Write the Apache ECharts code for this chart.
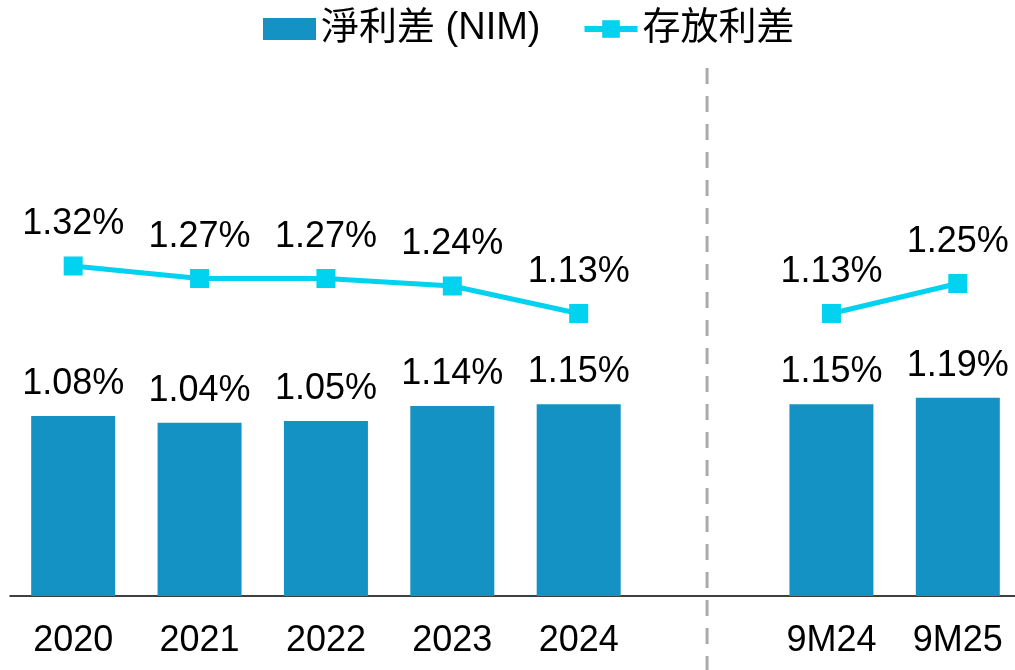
<!DOCTYPE html>
<html>
<head>
<meta charset="utf-8">
<script src="https://cdn.jsdelivr.net/npm/echarts@6/dist/echarts.min.js"></script>
<style>
  html, body { margin: 0; padding: 0; background: #fff; }
  #display { width: 1015px; height: 670px; }
</style>
</head>
<body>
<div id="display"></div>
<script>
// categories, the empty slot is the gap where the dashed separator sits
var categories = ['2020', '2021', '2022', '2023', '2024', '', '9M24', '9M25'];
var nim = [1.08, 1.04, 1.05, 1.14, 1.15, null, 1.15, 1.19];
var spread = [1.32, 1.27, 1.27, 1.24, 1.13, null, 1.13, 1.25];

var font = '"Liberation Sans", Arial, "Noto Sans CJK TC", sans-serif';

function pct(p) {
    return p.value == null ? '' : p.value.toFixed(2) + '%';
}

var option = {
    animation: false,
    textStyle: { fontFamily: font },
    legend: {
        top: 5,
        left: 258,
        itemWidth: 53,
        itemHeight: 22,
        itemGap: 41,
        textStyle: { fontSize: 38, color: '#000', fontFamily: font },
        data: [
            { name: '淨利差 (NIM)', icon: 'rect' },
            { name: '存放利差', lineStyle: { width: 6 } }
        ]
    },
    grid: { left: 10, width: 1011, top: 96, bottom: 74, outerBoundsMode: 'none' },
    xAxis: {
        type: 'category',
        data: categories,
        axisLine: { lineStyle: { color: '#000', width: 1.5 } },
        axisTick: { show: false },
        axisLabel: { color: '#000', fontSize: 36, margin: 27, fontFamily: font }
    },
    yAxis: [
        { type: 'value', min: 0, max: 3, show: false, splitLine: { show: false } },
        { type: 'value', min: 0, max: 2, show: false, splitLine: { show: false } }
    ],
    series: [
        {
            name: '淨利差 (NIM)',
            type: 'bar',
            data: nim,
            barWidth: 84,
            itemStyle: { color: '#1592C4' },
            label: {
                show: true, position: 'top', distance: 14,
                fontSize: 36, color: '#000', formatter: pct
            }
        },
        {
            name: '存放利差',
            type: 'line',
            yAxisIndex: 1,
            data: spread,
            connectNulls: false,
            symbol: 'rect',
            symbolSize: 19,
            lineStyle: { color: '#00D2EF', width: 5 },
            itemStyle: { color: '#00D2EF' },
            label: {
                show: true, position: 'top', distance: 14,
                fontSize: 36, color: '#000', formatter: pct
            }
        }
    ]
};

var myChart = echarts.init(document.getElementById('display'));
myChart.setOption(option);

// dashed separator through the empty category slot
var sepX = myChart.convertToPixel({ xAxisIndex: 0 }, 5);
myChart.setOption({
    graphic: [{
        type: 'line',
        shape: { x1: sepX + 2, y1: 68, x2: sepX + 2, y2: 670 },
        style: { stroke: '#AAAAAA', lineWidth: 3, lineDash: [16, 12] }
    }]
});
</script>
</body>
</html>
